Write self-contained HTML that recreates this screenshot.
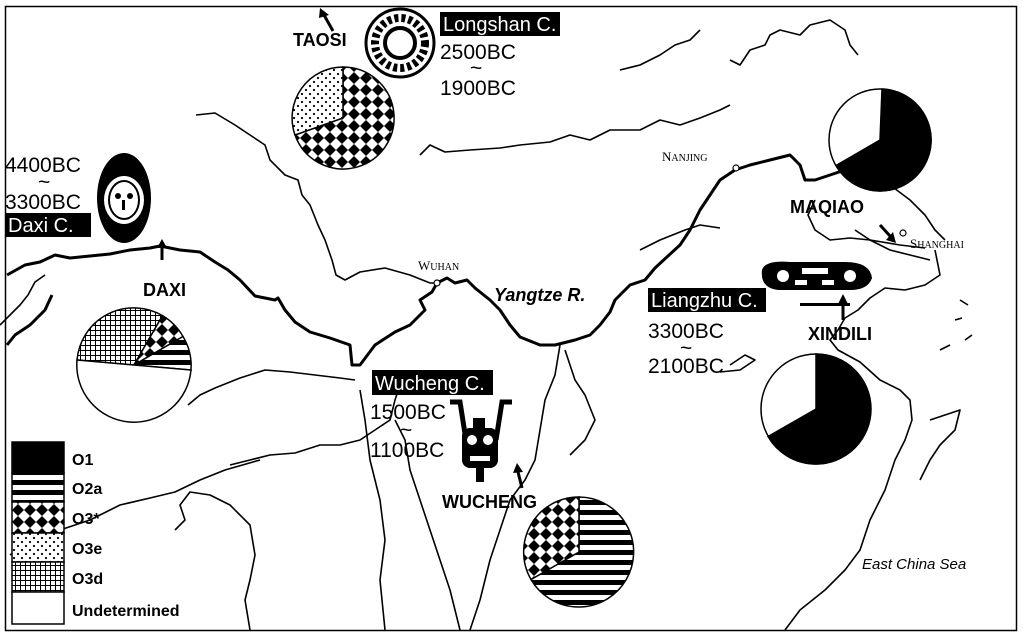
<!DOCTYPE html>
<html><head><meta charset="utf-8"><style>
html,body{margin:0;padding:0;background:#fff;}
svg{display:block;}
text{font-family:"Liberation Sans",sans-serif;}
.b{font-weight:bold;font-size:18px;}
.n{font-size:21px;}
.w{fill:#fff;font-size:20px;}
.sc{font-family:"Liberation Serif",serif;font-size:13px;}
</style></head><body>
<svg width="1023" height="637" viewBox="0 0 1023 637" xmlns="http://www.w3.org/2000/svg">
<defs>
<pattern id="stripes" width="10" height="10" patternUnits="userSpaceOnUse"><rect width="10" height="10" fill="#fff"/><rect y="0" width="10" height="5" fill="#000"/></pattern>
<pattern id="checker" width="12" height="12" patternUnits="userSpaceOnUse"><rect width="12" height="12" fill="#fff"/><polygon points="6,0 12,6 6,12 0,6" fill="#000"/></pattern>
<pattern id="dots" width="8" height="8" patternUnits="userSpaceOnUse"><rect width="8" height="8" fill="#fff"/><circle cx="2" cy="2" r="1.1" fill="#000"/><circle cx="6" cy="6" r="1.1" fill="#000"/></pattern>
<pattern id="grid" width="5" height="5" patternUnits="userSpaceOnUse"><rect width="5" height="5" fill="#fff"/><path d="M0 0.5H5M0.5 0V5" stroke="#000" stroke-width="1"/></pattern>
</defs>
<rect x="0" y="0" width="1023" height="637" fill="#fff"/>
<rect x="5.5" y="6.5" width="1011" height="624" fill="none" stroke="#000" stroke-width="1.5"/>

<g fill="none" stroke="#000" stroke-width="1.6" stroke-linejoin="round">
<path d="M196 115 L215 113 L235 125 L250 135 L265 145 L270 160 L285 175 L298 180 L302 195 L310 205 L318 225 L325 240 L332 260 L336 275 L345 280 L360 272 L385 268 L410 275 L430 283 L437 283"/>
<path d="M420 155 L430 145 L445 152 L470 150 L500 148 L520 145 L550 142 L570 135 L590 140 L610 130 L640 130 L660 120 L680 125 L700 118 L720 110 L730 105"/>
<path d="M730 60 L740 65 L750 50 L765 45 L770 35 L780 30 L800 35 L810 25 L830 20 L845 30 L850 45 L858 55"/>
<path d="M620 70 L640 65 L660 55 L675 45 L690 40 L700 30"/>
<path d="M0 325 L10 315 L20 305 L28 295 L35 282 L45 275"/>
<path d="M175 530 L185 520 L180 505 L190 492 L210 495 L230 505 L250 525 L255 555 L250 580 L245 600 L250 630"/>
<path d="M230 465 L250 460 L270 455 L295 453 L320 445 L340 445 L360 440 L375 430 L390 420 L395 400 L400 385 L395 370"/>
<path d="M188 405 L200 395 L215 388 L240 378 L265 370 L290 372 L315 375 L340 378 L355 380"/>
<path d="M10 555 L30 540 L60 530 L90 520 L120 505 L150 498 L175 492 L200 480 L225 470 L260 460"/>
<path d="M395 420 L405 440 L410 470 L420 500 L430 530 L440 560 L450 590 L460 630"/>
<path d="M360 390 L365 420 L370 460 L380 500 L385 540 L380 580 L385 630"/>
<path d="M560 345 L555 375 L545 400 L540 430 L535 460 L525 480 L510 500 L500 530 L490 560 L480 600 L470 630"/>
<path d="M565 350 L575 380 L585 395 L595 420 L585 440 L570 455"/>
<path d="M640 250 L660 240 L685 230 L700 225 L720 228"/>
<path d="M730 365 L745 355 L755 360 L740 370 L720 372"/>
<path d="M935 250 L940 275 L925 285 L905 290 L885 288 L870 298 L858 310 L845 318 L838 330 L830 340 L838 350 L860 362 L880 380 L900 390 L910 400 L912 420 L905 440 L895 460 L885 490 L870 520 L860 550 L845 570 L825 590 L800 610 L785 630"/>
<path d="M855 230 L870 240 L890 250 L910 255 L930 260"/>
<path d="M815 200 L808 215 L815 230 L830 240 L850 238 L870 240 L900 245 L925 248"/>
<path d="M890 185 L910 200 L925 215 L935 230 L945 240"/>
<path d="M930 420 L945 415 L960 410 L955 430 L940 445 L930 460 L920 480"/>
<path d="M960 300 L968 305 M955 320 L962 318 M965 340 L972 335 M940 350 L950 345"/>
</g>

<g fill="none" stroke="#000" stroke-width="3" stroke-linejoin="round">
<path d="M7 275 L25 265 L40 262 L55 255 L70 258 L90 256 L110 254 L130 250 L150 248 L160 246 L180 250 L200 252 L215 262 L228 270 L240 280 L255 296 L265 298 L275 300 L278 298 L285 310 L295 322 L310 332 L330 338 L350 345 L352 365 L360 365 L375 345 L395 332 L410 325 L425 310 L420 300 L432 292 L437 283 L447 278 L455 283 L467 280 L475 288 L480 292 L490 300 L500 310 L510 325 L520 337 L540 345 L555 345 L575 340 L590 335 L600 325 L610 312 L615 300 L630 285 L645 280 L655 268 L668 256 L680 245 L690 230 L700 210 L710 195 L720 180 L735 170 L750 165 L770 160 L790 155 L800 165 L805 180 L815 180 L830 175 L845 170"/>
<path d="M7 345 L15 335 L30 325 L45 310 L52 295"/>
</g>
<g fill="#fff" stroke="#000" stroke-width="1.2">
<circle cx="437" cy="283" r="3"/><circle cx="736" cy="168" r="3"/><circle cx="903" cy="233" r="3"/>
</g>

<g stroke="#000" stroke-width="1.5">
<path d="M343 118 L343 67 A51 51 0 1 1 295 135 Z" fill="url(#checker)"/>
<path d="M343 118 L343 67 A51 51 0 0 0 295 135 Z" fill="url(#dots)"/>
<path d="M134 365 L77 360 A57 57 0 0 1 162.5 315.6 Z" fill="url(#grid)"/>
<path d="M134 365 L162.5 315.6 A57 57 0 0 1 183 336.5 Z" fill="url(#checker)"/>
<path d="M134 365 L183 336.5 A57 57 0 0 1 191 370 Z" fill="url(#stripes)"/>
<path d="M134 365 L191 370 A57 57 0 0 1 77 360 Z" fill="#fff"/>
<circle cx="880" cy="140" r="51" fill="#fff"/>
<path d="M880 140 L882 89 A51 51 0 1 1 836 165.5 Z" fill="#000"/>
<circle cx="816" cy="409" r="55" fill="#fff"/>
<path d="M816 409 L816 354 A55 55 0 1 1 768 436.5 Z" fill="#000"/>
<path d="M579 552 L579 497 A55 55 0 1 1 531 579.5 Z" fill="url(#stripes)"/>
<path d="M579 552 L579 497 A55 55 0 0 0 531 579.5 Z" fill="url(#checker)"/>
</g>

<g>
<circle cx="400" cy="43" r="34" fill="#fff" stroke="#000" stroke-width="3"/>
<circle cx="400" cy="43" r="25" fill="none" stroke="#000" stroke-width="8" stroke-dasharray="4 3"/>
<circle cx="400" cy="43" r="15" fill="none" stroke="#000" stroke-width="4"/>
<ellipse cx="124" cy="198" rx="27" ry="45" fill="#000"/>
<ellipse cx="124" cy="200" rx="20" ry="24" fill="#fff"/>
<ellipse cx="124" cy="200" rx="16" ry="20" fill="#000"/>
<ellipse cx="124" cy="200" rx="14" ry="18" fill="#fff"/>
<circle cx="118" cy="196" r="3" fill="#000"/><circle cx="130" cy="196" r="3" fill="#000"/>
<rect x="122" y="200" width="3" height="10" fill="#000"/>
<path d="M450 402 L460 402 L466 440 M512 402 L502 402 L496 440" stroke="#000" stroke-width="5" fill="none"/>
<rect x="473" y="418" width="12" height="12" fill="#000"/>
<rect x="462" y="428" width="36" height="40" rx="8" fill="#000"/>
<circle cx="472" cy="440" r="5" fill="#fff"/><circle cx="488" cy="440" r="5" fill="#fff"/>
<rect x="470" y="456" width="20" height="5" fill="#fff"/>
<rect x="476" y="466" width="8" height="16" fill="#000"/>
<path d="M762 270 Q765 260 790 262 L845 262 Q870 262 872 278 Q868 290 850 290 L778 290 Q760 288 762 270 Z" fill="#000"/>
<circle cx="783" cy="276" r="6" fill="#fff"/><circle cx="850" cy="276" r="6" fill="#fff"/>
<rect x="802" y="268" width="26" height="6" fill="#fff"/>
<rect x="795" y="280" width="12" height="5" fill="#fff"/><rect x="822" y="280" width="12" height="5" fill="#fff"/>
<rect x="800" y="303" width="50" height="3" fill="#000"/>
</g>

<g stroke="#000" stroke-width="3" fill="#000">
<path d="M333 31 L324 15" fill="none"/><polygon points="320,8 329,15 319,18" stroke="none"/>
<path d="M162 260 L162 246" fill="none"/><polygon points="162,239 157,248 167,248" stroke="none"/>
<path d="M880 225 L890 236" fill="none"/><polygon points="896,243 886,240 893,232" stroke="none"/>
<path d="M843 320 L843 302" fill="none"/><polygon points="843,294 838,304 848,304" stroke="none"/>
<path d="M522 488 L518 472" fill="none"/><polygon points="517,463 513,473 523,472" stroke="none"/>
</g>

<text x="293" y="46" class="b">TAOSI</text>
<rect x="440" y="12" width="120" height="24" fill="#000"/>
<text x="443" y="31" class="w">Longshan C.</text>
<text x="440" y="59" class="n">2500BC</text>
<text x="470" y="75" class="n">~</text>
<text x="440" y="95" class="n">1900BC</text>

<text x="5" y="172" class="n">4400BC</text>
<text x="38" y="189" class="n">~</text>
<text x="5" y="209" class="n">3300BC</text>
<rect x="5" y="213" width="86" height="24" fill="#000"/>
<text x="8" y="232" class="w">Daxi C.</text>
<text x="143" y="296" class="b">DAXI</text>

<text x="418" y="270" class="sc">W<tspan font-size="10">UHAN</tspan></text>
<text x="494" y="301" class="b" font-style="italic" font-size="17">Yangtze R.</text>

<rect x="372" y="370" width="121" height="25" fill="#000"/>
<text x="375" y="390" class="w">Wucheng C.</text>
<text x="370" y="419" class="n">1500BC</text>
<text x="400" y="437" class="n">~</text>
<text x="370" y="457" class="n">1100BC</text>
<text x="442" y="508" class="b">WUCHENG</text>

<text x="662" y="161" class="sc">N<tspan font-size="10">ANJING</tspan></text>
<text x="790" y="213" class="b">MAQIAO</text>
<text x="910" y="248" class="sc">S<tspan font-size="10">HANGHAI</tspan></text>
<rect x="648" y="288" width="118" height="24" fill="#000"/>
<text x="651" y="307" class="w">Liangzhu C.</text>
<text x="648" y="338" class="n">3300BC</text>
<text x="680" y="355" class="n">~</text>
<text x="648" y="373" class="n">2100BC</text>
<text x="808" y="340" class="b">XINDILI</text>
<text x="862" y="569" font-size="15" font-style="italic">East China Sea</text>

<g stroke="#000" stroke-width="1.5">
<rect x="12" y="442" width="52" height="31" fill="#000"/>
<rect x="12" y="473" width="52" height="29" fill="url(#stripes)"/>
<rect x="12" y="502" width="52" height="31" fill="url(#checker)"/>
<rect x="12" y="533" width="52" height="29" fill="url(#dots)"/>
<rect x="12" y="562" width="52" height="30" fill="url(#grid)"/>
<rect x="12" y="592" width="52" height="32" fill="#fff"/>
</g>
<g font-weight="bold" font-size="16">
<text x="72" y="465">O1</text>
<text x="72" y="494">O2a</text>
<text x="72" y="524">O3*</text>
<text x="72" y="554">O3e</text>
<text x="72" y="584">O3d</text>
<text x="72" y="616">Undetermined</text>
</g>
</svg>
</body></html>
